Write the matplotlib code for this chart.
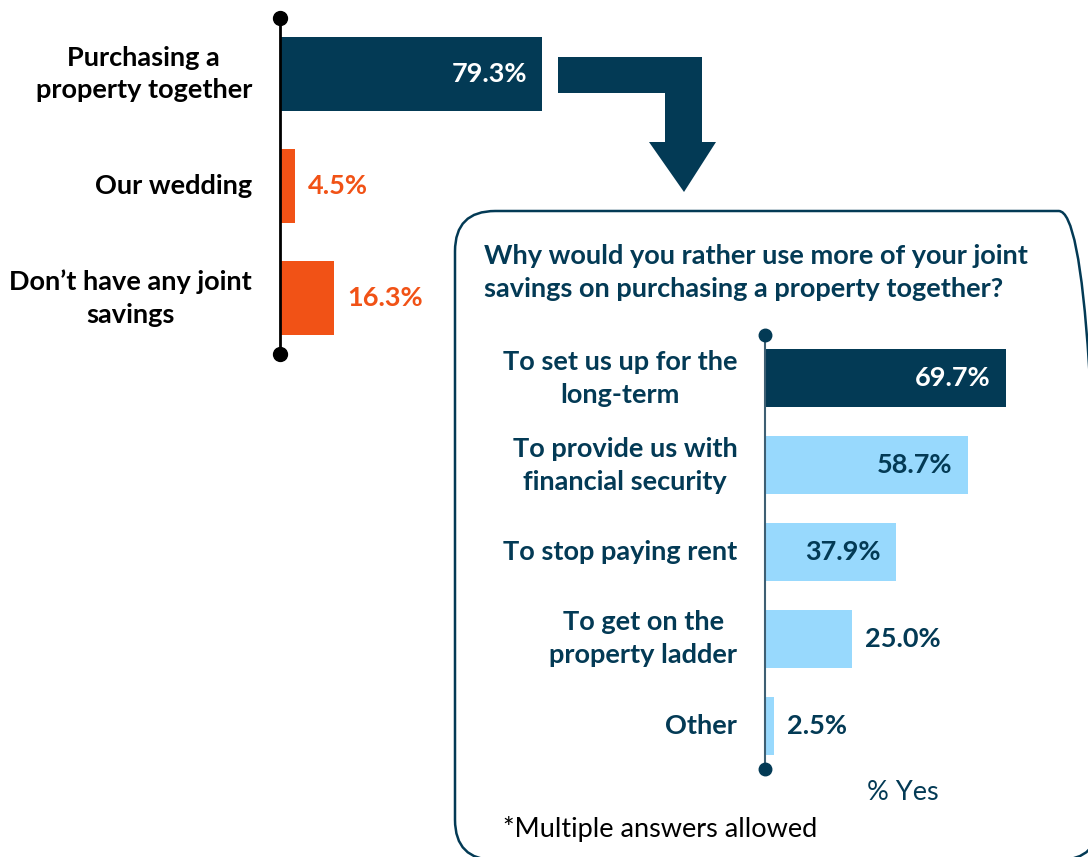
import matplotlib.pyplot as plt
from matplotlib.patches import FancyBboxPatch, Polygon

plt.rcParams['font.family'] = ['Lato', 'DejaVu Sans']

# Main question
top_labels = ["Purchasing a\nproperty together", "Our wedding", "Don\u2019t have any joint\nsavings"]
top_values = [79.3, 4.5, 16.3]

# Follow-up question
sub_title = "Why would you rather use more of your joint\nsavings on purchasing a property together?"
sub_labels = ["To set us up for the\nlong-term", "To provide us with\nfinancial security",
              "To stop paying rent", "To get on the\nproperty ladder", "Other"]
sub_values = [69.7, 58.7, 37.9, 25.0, 2.5]

NAVY = "#033A55"
ORANGE = "#F15216"
LIGHT = "#98D9FD"
FS = 19.5

W, H = 1088, 857
fig = plt.figure(figsize=(W / 100, H / 100), dpi=100)


def px_axes(left, top, width, height):
    return fig.add_axes([left / W, 1 - (top + height) / H, width / W, height / H])


def style_axis(ax, n, line_col, lw, dot_col, ms):
    ax.set_xlim(0, 100)
    ax.set_ylim(n - 0.5, -0.5)
    for s in ax.spines.values():
        s.set_visible(False)
    ax.set_xticks([])
    ax.set_yticks([])
    ax.patch.set_alpha(0)
    ax.plot([0, 0], [-0.5, n - 0.5], color=line_col, lw=lw, zorder=3, clip_on=False)
    ax.plot([0, 0], [-0.5, n - 0.5], 'o', color=dot_col, ms=ms, zorder=4, clip_on=False)


# ---- top chart ----
ax1 = px_axes(280, 18, 330, 336)
cols1 = [NAVY, ORANGE, ORANGE]
ax1.barh(range(3), top_values, height=0.66, color=cols1, zorder=2)
style_axis(ax1, 3, "black", 2, "black", 10)
for i, (lab, v) in enumerate(zip(top_labels, top_values)):
    ax1.text(-8.5, i, lab, ha="right", va="center", multialignment="center",
             fontsize=FS, fontweight="bold", color="black", linespacing=1.45, clip_on=False)
    if v > 50:
        ax1.text(v - 4.5, i, f"{v:.1f}%", ha="right", va="center", fontsize=FS,
                 fontweight="bold", color="white")
    else:
        ax1.text(v + 4, i, f"{v:.1f}%", ha="left", va="center", fontsize=FS,
                 fontweight="bold", color=ORANGE)

# ---- elbow arrow ----
arrow_px = [(558, 57), (702, 57), (702, 142), (716, 142), (684, 192),
            (649, 142), (665, 142), (665, 93), (558, 93)]
fig.patches.append(Polygon([(x / W, 1 - y / H) for x, y in arrow_px], closed=True,
                           transform=fig.transFigure, facecolor=NAVY, edgecolor="none"))

# ---- rounded box (runs off the right and bottom edges) ----
box = FancyBboxPatch((455 / W, 1 - 860 / H), (1099 - 455) / W, (860 - 211) / H,
                     boxstyle="round,pad=0,rounding_size=0.037",
                     transform=fig.transFigure, facecolor="none", edgecolor=NAVY,
                     linewidth=1.8, mutation_aspect=W / H)
fig.patches.append(box)

fig.text(484 / W, 1 - 272 / H, sub_title, ha="left", va="center", fontsize=FS,
         fontweight="bold", color=NAVY, linespacing=1.45)

# ---- follow-up chart ----
ax2 = px_axes(765, 335, 346, 434)
cols2 = [NAVY] + [LIGHT] * 4
ax2.barh(range(5), sub_values, height=0.667, color=cols2, zorder=2)
style_axis(ax2, 5, "#3E5F73", 1.5, NAVY, 9)
for i, (lab, v) in enumerate(zip(sub_labels, sub_values)):
    ax2.text(-8, i, lab, ha="right", va="center", multialignment="center",
             fontsize=FS, fontweight="bold", color=NAVY, linespacing=1.45, clip_on=False)
    if v > 30:
        ax2.text(v - 4.5, i, f"{v:.1f}%", ha="right", va="center", fontsize=FS,
                 fontweight="bold", color="white" if i == 0 else NAVY)
    else:
        ax2.text(v + 4, i, f"{v:.1f}%", ha="left", va="center", fontsize=FS,
                 fontweight="bold", color=NAVY)

fig.text(903 / W, 1 - 792 / H, "% Yes", ha="center", va="center", fontsize=FS, color=NAVY)
fig.text(503 / W, 1 - 829 / H, "*Multiple answers allowed", ha="left", va="center",
         fontsize=FS, color="black")

fig.savefig("out.png", dpi=100)
